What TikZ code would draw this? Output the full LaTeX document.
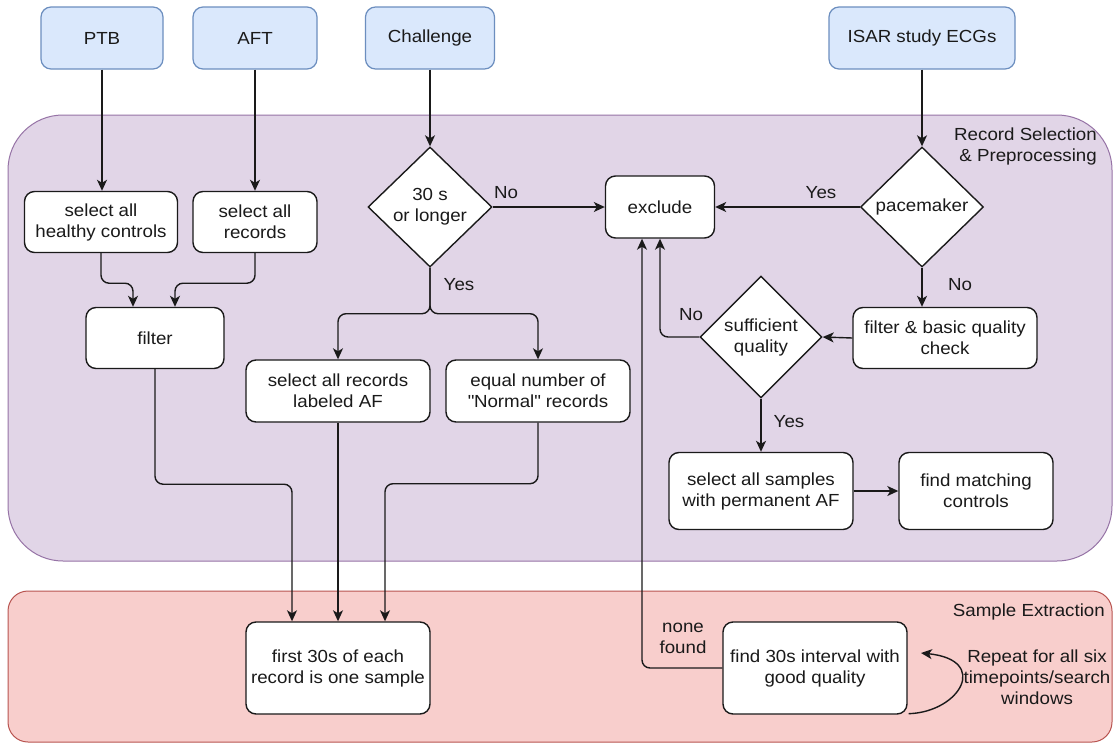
\documentclass[tikz,border=0pt]{standalone}
\usepackage{fontspec}
\setmainfont{Liberation Sans}[FakeStretch=1.07]
\usetikzlibrary{arrows.meta,shapes.geometric}
\definecolor{bfill}{HTML}{DAE8FC}
\definecolor{bdraw}{HTML}{6C8EBF}
\definecolor{pfill}{HTML}{E1D5E7}
\definecolor{pdraw}{HTML}{9673A6}
\definecolor{rfill}{HTML}{F8CECC}
\definecolor{rdraw}{HTML}{B85450}
\definecolor{ink}{HTML}{1A1A1A}
\begin{document}
\begin{tikzpicture}[x=1pt,y=-1pt,
  font=\fontsize{17.5}{21}\selectfont,
  src/.style={draw=bdraw,fill=bfill,rounded corners=10pt,line width=1.2pt,minimum height=62pt,inner sep=2pt,align=center,text=ink},
  proc/.style={draw=ink,fill=white,rounded corners=10pt,line width=1.4pt,minimum height=61pt,minimum width=184pt,inner sep=2pt,align=center,text=ink},
  dia/.style={draw=ink,fill=white,diamond,line width=1.4pt,inner sep=0pt,minimum width=124pt,minimum height=120pt},
  lbl/.style={align=center,inner sep=0pt,text=ink},
  arr/.style={draw=ink,line width=1.4pt,-{Stealth[length=11pt,width=10pt,inset=3pt]},rounded corners=8pt},
]
\useasboundingbox[fill=white] (0,0) rectangle (1117,744);

% regions
\draw[draw=pdraw,fill=pfill,line width=1pt,rounded corners=55pt] (8,115) rectangle (1112,561);
\draw[draw=rdraw,fill=rfill,line width=1pt,rounded corners=20pt] (8,591) rectangle (1112,742);
\node[lbl,anchor=east,align=right] at (1097,146) {Record Selection\\\& Preprocessing};
\node[lbl,anchor=east] at (1105,612) {Sample Extraction};
\node[lbl] at (1037,677) {Repeat for all six\\timepoints/search\\windows};

% sources
\node[src,minimum width=122pt] (ptb) at (102,38) {PTB};
\node[src,minimum width=124pt] (aft) at (255,38) {AFT};
\node[src,minimum width=129pt] (chal) at (430,38) {Challenge};
\node[src,minimum width=186pt] (isar) at (922,38) {ISAR study ECGs};

% process boxes
\node[proc,minimum width=153pt] (selh) at (101,222) {select all\\healthy controls};
\node[proc,minimum width=124pt] (selr) at (255,222) {select all\\records};
\node[proc,minimum width=138pt] (filter) at (155,338) {filter};
\node[proc,minimum height=62pt] (selaf) at (338,391) {select all records\\labeled AF};
\node[proc,minimum height=62pt] (eqn) at (538,391) {equal number of\\\textquotedbl Normal\textquotedbl{} records};
\node[proc,minimum width=109pt,minimum height=62pt] (excl) at (660,207) {exclude};
\node[proc] (fbq) at (945,338) {filter \& basic quality\\check};
\node[proc,minimum height=77pt] (sels) at (761,491) {select all samples\\with permanent AF};
\node[proc,minimum width=154pt,minimum height=77pt] (fmc) at (976,491) {find matching\\controls};
\node[proc,minimum height=92pt] (first) at (338,668) {first 30s of each\\record is one sample};
\node[proc,minimum height=92pt] (f30) at (815,668) {find 30s interval with\\good quality};

% decisions
\node[dia] (d30) at (430,207) {};
\node[lbl] at (d30) {30 s\\or longer};
\node[dia,minimum width=123pt] (pace) at (922,207) {};
\node[lbl] at (pace) {pacemaker};
\node[dia,minimum width=122pt,minimum height=122pt] (suff) at (761,337) {};
\node[lbl] at (suff) {sufficient\\quality};

% edge labels
\node[lbl] at (506,193) {No};
\node[lbl] at (459,285) {Yes};
\node[lbl] at (821,193) {Yes};
\node[lbl] at (960,285) {No};
\node[lbl] at (691,315) {No};
\node[lbl] at (789,422) {Yes};
\node[lbl] at (683,638) {none\\found};

% connectors
\draw[arr] (ptb.south) -- (ptb.south |- selh.north);
\draw[arr] (aft.south) -- (aft.south |- selr.north);
\draw[arr] (chal.south) -- (d30.north);
\draw[arr] (isar.south) -- (pace.north);
\draw[arr] (selh.south) -- ++(0,30) -| ([xshift=-22pt]filter.north);
\draw[arr] (selr.south) -- ++(0,30) -| ([xshift=20pt]filter.north);
\draw[arr] (d30.south) -- ++(0,46) -| (selaf.north);
\draw[arr] (d30.south) -- ++(0,46) -| (eqn.north);
\draw[arr] (d30.east) -- (excl.west);
\draw[arr] (pace.west) -- (excl.east);
\draw[arr] (pace.south) -- (pace.south |- fbq.north);
\draw[arr] (fbq.west) -- (suff.east);
\draw[arr] (suff.west) -| (excl.south);
\draw[arr] (suff.south) -- (sels.north);
\draw[arr] (sels.east) -- (fmc.west);
\draw[arr] (filter.south) -- ++(0,115) -| ([xshift=-46pt]first.north);
\draw[arr] (selaf.south) -- (first.north);
\draw[arr] (eqn.south) -- ++(0,61) -| ([xshift=47pt]first.north);
\draw[arr] (f30.west) -| ([xshift=-18pt]excl.south);
\coordinate (looptip) at (921,653);
\draw[arr] ([xshift=1pt,yshift=1pt]f30.south east) .. controls (960,712) and (990,660) .. (looptip);
\end{tikzpicture}
\end{document}
